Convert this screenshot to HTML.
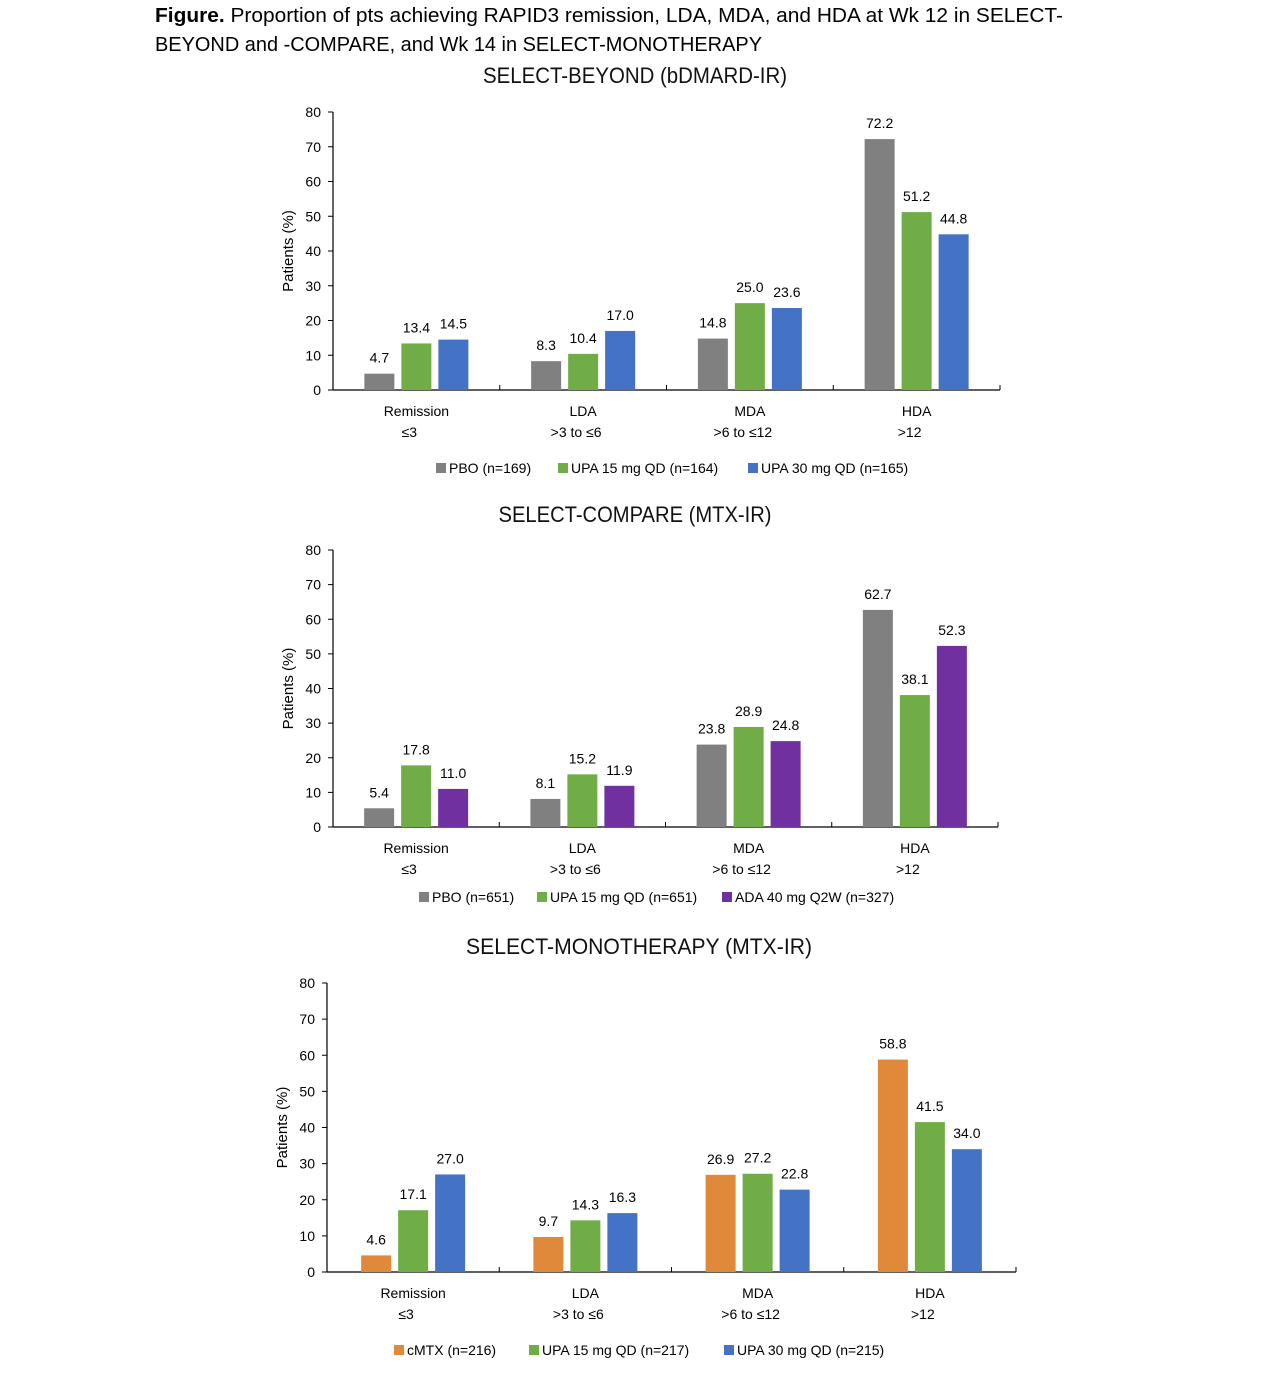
<!DOCTYPE html>
<html><head><meta charset="utf-8"><style>
body{margin:0;background:#fff;width:1280px;height:1370px;overflow:hidden;font-family:"Liberation Sans",sans-serif}
svg text{font-family:"Liberation Sans",sans-serif}
</style></head><body>
<svg id="s" width="1280" height="1370">
<text x="155" y="22" font-size="20" fill="#000" textLength="908" lengthAdjust="spacingAndGlyphs"><tspan font-weight="bold">Figure.</tspan> Proportion of pts achieving RAPID3 remission, LDA, MDA, and HDA at Wk 12 in SELECT-</text>
<text x="155" y="51" font-size="20" fill="#000" textLength="607" lengthAdjust="spacingAndGlyphs">BEYOND and -COMPARE, and Wk 14 in SELECT-MONOTHERAPY</text>
</svg>
<script>
const categories=["Remission","LDA","MDA","HDA"];
const subLabels=["≤3",">3 to ≤6",">6 to ≤12",">12"];
const yTicks=[0,10,20,30,40,50,60,70,80];
const beyondPBO=[4.7,8.3,14.8,72.2];
const beyondUPA15=[13.4,10.4,25.0,51.2];
const beyondUPA30=[14.5,17.0,23.6,44.8];
const comparePBO=[5.4,8.1,23.8,62.7];
const compareUPA15=[17.8,15.2,28.9,38.1];
const compareADA=[11.0,11.9,24.8,52.3];
const monoMTX=[4.6,9.7,26.9,58.8];
const monoUPA15=[17.1,14.3,27.2,41.5];
const monoUPA30=[27.0,16.3,22.8,34.0];
const beyondLegend=["PBO (n=169)","UPA 15 mg QD (n=164)","UPA 30 mg QD (n=165)"];
const compareLegend=["PBO (n=651)","UPA 15 mg QD (n=651)","ADA 40 mg Q2W (n=327)"];
const monoLegend=["cMTX (n=216)","UPA 15 mg QD (n=217)","UPA 30 mg QD (n=215)"];
const NS="http://www.w3.org/2000/svg",S=document.getElementById('s');
function mk(t,a,p){const e=document.createElementNS(NS,t);for(const k in a)e.setAttribute(k,a[k]);(p||S).appendChild(e);return e;}
function chart(c){
 const g=mk('g',{});
 
 
 const y=v=>c.base-(c.base-c.top)*v/80;
 const gw=(c.x1-c.x0)/categories.length;
 const t=mk('text',{x:c.tx,y:c.ty,'font-size':22,'text-anchor':'middle',fill:'#111',textLength:c.tl,lengthAdjust:'spacingAndGlyphs'},g);t.textContent=c.title;
 
 
 mk('line',{x1:c.x0,y1:c.top,x2:c.x0,y2:c.base,stroke:'#000','stroke-width':1.2},g);
 mk('line',{x1:c.x0,y1:c.base,x2:c.x1,y2:c.base,stroke:'#000','stroke-width':1.2},g);
 yTicks.forEach(v=>{mk('line',{x1:c.x0-5,y1:y(v),x2:c.x0,y2:y(v),stroke:'#000'},g);
  const l=mk('text',{x:c.x0-12,y:y(v)+5,'font-size':14,'text-anchor':'end'},g);l.textContent=v;
  
  });
 for(let i=0;i<=categories.length;i++)mk('line',{x1:c.x0+i*gw,y1:c.base-5,x2:c.x0+i*gw,y2:c.base,stroke:'#000'},g);
 const yt=mk('text',{transform:`translate(${c.x0-40},${(c.top+c.base)/2}) rotate(-90)`,'font-size':15,'text-anchor':'middle'},g);yt.textContent='Patients (%)';
 
 
 const bw=30,gap=7;
 categories.forEach((cat,i)=>{
  const cx=c.x0+gw*(i+0.5);
  c.series.forEach((s,j)=>{
   const v=s[i],bx=cx-bw*1.5-gap+j*(bw+gap);
   const r=mk('rect',{x:bx,y:y(v),width:bw,height:y(0)-y(v),fill:c.colors[j]},g);
   
   
   const l=mk('text',{x:bx+bw/2,y:y(v)-11,'font-size':14,'text-anchor':'middle'},g);l.textContent=v.toFixed(1);
   
   
  });
  const a=mk('text',{x:cx,y:c.base+26,'font-size':14,'text-anchor':'middle'},g);a.textContent=cat;
  
  
  const b=mk('text',{x:cx-7,y:c.base+47,'font-size':14,'text-anchor':'middle'},g);b.textContent=subLabels[i];
  
  
 });
 c.legend.forEach((s,j)=>{
  const lx=c.lx[j];
  mk('rect',{x:lx,y:c.ly-9,width:10,height:10,fill:c.colors[j]},g);
  const l=mk('text',{x:lx+13,y:c.ly+1,'font-size':14},g);l.textContent=s;
  
  
 });
}
chart({name:'select-beyond-chart',title:'SELECT-BEYOND (bDMARD-IR)',tx:635,ty:83,tl:304,x0:333,x1:1000,top:112,base:390,
 series:[beyondPBO,beyondUPA15,beyondUPA30],colors:['#808080','#70ad47','#4472c4'],legend:beyondLegend,lx:[436,558,748],ly:472});
chart({name:'select-compare-chart',title:'SELECT-COMPARE (MTX-IR)',tx:635,ty:522,tl:273,x0:333,x1:998,top:550,base:827,
 series:[comparePBO,compareUPA15,compareADA],colors:['#808080','#70ad47','#7030a0'],legend:compareLegend,lx:[419,537,722],ly:901});
chart({name:'select-monotherapy-chart',title:'SELECT-MONOTHERAPY (MTX-IR)',tx:639,ty:954,tl:346,x0:327,x1:1016,top:983,base:1272,
 series:[monoMTX,monoUPA15,monoUPA30],colors:['#e0893a','#70ad47','#4472c4'],legend:monoLegend,lx:[394,529,724],ly:1354});
</script>
</body></html>
